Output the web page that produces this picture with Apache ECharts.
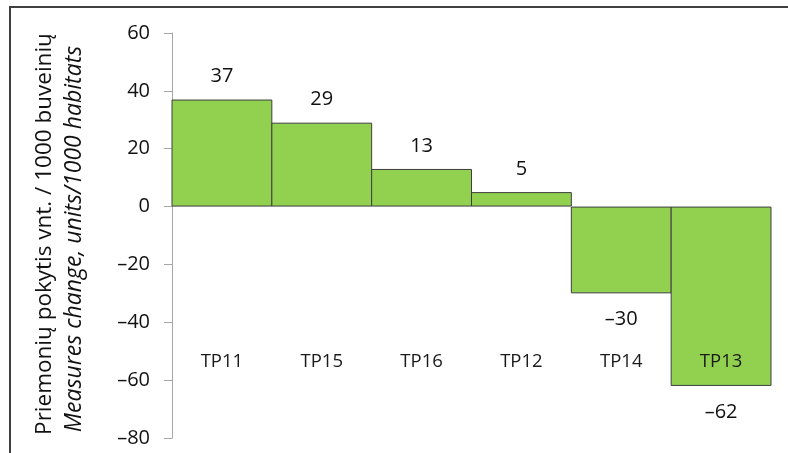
<!DOCTYPE html>
<html>
<head>
<meta charset="utf-8">
<script src="https://cdn.jsdelivr.net/npm/echarts@6/dist/echarts.min.js"></script>
<style>
  html, body { margin: 0; padding: 0; background: #fff; }
  #chart { width: 788px; height: 453px; }
</style>
</head>
<body>
<div id="chart"></div>
<script>
// Change in measures per 1000 habitats, by measure group
const categories = ['TP11', 'TP15', 'TP16', 'TP12', 'TP14', 'TP13'];
const values = [37, 29, 13, 5, -30, -62];
const yTicks = { min: -80, max: 60, interval: 20 };
const titleLines = [
  'Priemonių pokytis vnt. / 1000 buveinių',
  'Measures change, units/1000 habitats'
];

const FONT = '"Open Sans", "Noto Sans", sans-serif';
const dash = (v) => String(v).replace('-', '\u2013');

const chart = echarts.init(document.getElementById('chart'), null, { renderer: 'canvas' });

chart.setOption({
  animation: false,
  backgroundColor: '#ffffff',
  grid: { left: 172, right: 17, top: 33, bottom: 15, containLabel: false },
  xAxis: {
    type: 'category',
    data: categories,
    position: 'bottom',
    offset: -86,
    z: 10,
    axisLine: { show: false },
    axisTick: { show: false },
    axisLabel: {
      margin: 0,
      color: '#1a1a1a',
      fontFamily: FONT,
      fontSize: 18.5
    }
  },
  yAxis: {
    type: 'value',
    min: yTicks.min,
    max: yTicks.max,
    interval: yTicks.interval,
    axisLine: { show: true, lineStyle: { color: '#a6a6a6', width: 1 } },
    axisTick: { show: true, length: 8, lineStyle: { color: '#a6a6a6' } },
    splitLine: { show: false },
    axisLabel: {
      margin: 22,
      color: '#111',
      fontFamily: FONT,
      fontSize: 20,
      formatter: (v) => dash(v)
    }
  },
  series: [{
    type: 'bar',
    barWidth: '101%',
    barCategoryGap: 0,
    itemStyle: { color: '#92d050', borderColor: '#3f3f3f', borderWidth: 1 },
    label: {
      show: true,
      color: '#111',
      fontFamily: FONT,
      fontSize: 20,
      formatter: (p) => dash(p.value)
    },
    data: values.map((v) => ({
      value: v,
      label: v >= 0
        ? { position: 'top', distance: 13 }
        : { position: 'bottom', distance: 16 }
    }))
  }],
  graphic: [
    {
      type: 'polyline',
      silent: true,
      shape: { points: [[10, 470], [10, 7], [800, 7]] },
      style: { fill: null, stroke: '#404040', lineWidth: 2 }
    },
    {
      type: 'text',
      x: 45, y: 234,
      rotation: Math.PI / 2,
      style: {
        text: titleLines[0],
        font: '22.5px ' + FONT,
        fill: '#111',
        textAlign: 'center',
        textVerticalAlign: 'middle'
      }
    },
    {
      type: 'text',
      x: 74, y: 239,
      rotation: Math.PI / 2,
      style: {
        text: titleLines[1],
        font: 'italic 23px ' + FONT,
        fill: '#111',
        textAlign: 'center',
        textVerticalAlign: 'middle'
      }
    }
  ]
});
</script>
</body>
</html>
